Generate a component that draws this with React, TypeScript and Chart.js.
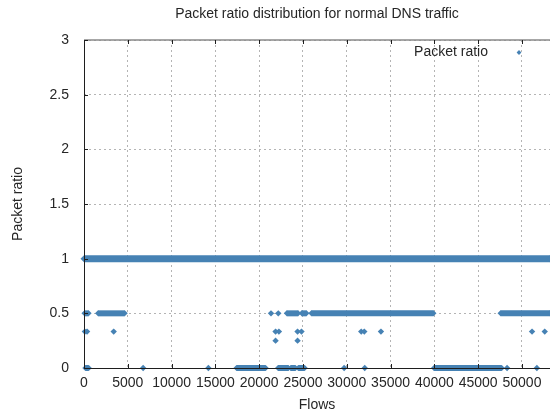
import React, { useEffect, useRef } from "react";
import { Chart, registerables } from "chart.js";

Chart.register(...registerables);

const TITLE = "Packet ratio distribution for normal DNS traffic";
const X_LABEL = "Flows";
const Y_LABEL = "Packet ratio";
const SERIES_NAME = "Packet ratio";

const X_MIN = 0;
const X_MAX = 53200;
const Y_MIN = 0;
const Y_MAX = 3;
const xTickValues = [0, 5000, 10000, 15000, 20000, 25000, 30000, 35000, 40000, 45000, 50000];
const yTickValues = [0, 0.5, 1, 1.5, 2, 2.5, 3];

// Dense runs of consecutive flows sharing the same ratio: [first flow, last flow]
const runsRatio1 = [[0, 53200]];
const runsRatioHalf = [
  [50, 530],
  [1600, 4650],
  [23150, 24450],
  [24850, 25400],
  [25950, 39900],
  [47550, 53200],
];
const runsRatio0 = [
  [150, 550],
  [17400, 20750],
  [22150, 23350],
  [23600, 24150],
  [24450, 25200],
  [39950, 47700],
];

// Isolated flows (flow index) per ratio value
const pointsRatioHalf = [21350, 22180];
const pointsRatioThird = [100, 350, 3390, 21870, 22250, 24380, 24830, 31650, 32000, 33900, 51150, 52600];
const pointsRatioQuarter = [21870, 24380];
const pointsRatio0 = [6750, 14200, 29700, 32050, 48300, 51700];

const RATIO_1 = 1;
const RATIO_HALF = 0.5;
const RATIO_THIRD = 0.333;
const RATIO_QUARTER = 0.25;
const RATIO_0 = 0;

const COLOR = "#4682b4";
const TEXT = "#262626";
const FONT = "'Liberation Sans', Arial, sans-serif";
const FONT_SIZE = 14;

function runDatasets(runs: number[][], ratio: number, width: number) {
  return runs.map(([s, e]) => ({
    type: "scatter" as const,
    showLine: true,
    data: [
      { x: s, y: ratio },
      { x: e, y: ratio },
    ],
    borderColor: COLOR,
    backgroundColor: COLOR,
    borderWidth: width,
    pointStyle: "rectRot" as const,
    pointRadius: width / 2,
    pointBorderWidth: 0,
    clip: false as const,
  }));
}

function pointDataset(xs: number[], ratio: number) {
  return {
    type: "scatter" as const,
    showLine: false,
    data: xs.map((x) => ({ x, y: ratio })),
    borderColor: COLOR,
    backgroundColor: COLOR,
    pointStyle: "rectRot" as const,
    pointRadius: 3.2,
    pointBorderWidth: 0,
    clip: false as const,
  };
}

const framePlugin = {
  id: "frame",
  afterDatasetsDraw(chart: any) {
    const { ctx, chartArea: a, scales } = chart;
    const xs = scales.x;
    const ys = scales.y;
    ctx.save();
    // top border (light)
    ctx.strokeStyle = "#8a8a8a";
    ctx.lineWidth = 1.5;
    ctx.beginPath();
    ctx.moveTo(a.left, a.top);
    ctx.lineTo(a.right, a.top);
    ctx.stroke();
    // left & bottom border
    ctx.strokeStyle = "#1e1e1e";
    ctx.lineWidth = 1;
    ctx.beginPath();
    ctx.moveTo(a.left + 0.5, a.top);
    ctx.lineTo(a.left + 0.5, a.bottom + 0.5);
    ctx.lineTo(a.right, a.bottom + 0.5);
    ctx.stroke();
    // inward tick marks
    ctx.beginPath();
    xs.ticks.forEach((t: any) => {
      const px = Math.round(xs.getPixelForValue(t.value)) + 0.5;
      ctx.moveTo(px, a.bottom);
      ctx.lineTo(px, a.bottom - 4);
      ctx.moveTo(px, a.top);
      ctx.lineTo(px, a.top + 4);
    });
    ys.ticks.forEach((t: any) => {
      const py = Math.round(ys.getPixelForValue(t.value)) + 0.5;
      ctx.moveTo(a.left, py);
      ctx.lineTo(a.left + 4, py);
    });
    ctx.stroke();

    // title
    ctx.fillStyle = TEXT;
    ctx.font = `${FONT_SIZE}px ${FONT}`;
    ctx.textAlign = "center";
    ctx.textBaseline = "middle";
    ctx.fillText(TITLE, (a.left + a.right) / 2, 14);

    // legend inside plot, top right
    ctx.textAlign = "right";
    ctx.fillText(SERIES_NAME, a.right - 62, a.top + 12);
    const mx = a.right - 31;
    const my = a.top + 12.5;
    ctx.fillStyle = COLOR;
    ctx.beginPath();
    ctx.moveTo(mx, my - 2.4);
    ctx.lineTo(mx + 2.4, my);
    ctx.lineTo(mx, my + 2.4);
    ctx.lineTo(mx - 2.4, my);
    ctx.closePath();
    ctx.fill();
    ctx.restore();
  },
};

export default function App() {
  const ref = useRef<HTMLCanvasElement | null>(null);
  useEffect(() => {
    if (!ref.current) return;
    const datasets: any[] = [
      ...runDatasets(runsRatio1, RATIO_1, 7),
      ...runDatasets(runsRatioHalf, RATIO_HALF, 6),
      ...runDatasets(runsRatio0, RATIO_0, 6),
      pointDataset(pointsRatioHalf, RATIO_HALF),
      pointDataset(pointsRatioThird, RATIO_THIRD),
      pointDataset(pointsRatioQuarter, RATIO_QUARTER),
      pointDataset(pointsRatio0, RATIO_0),
    ];
    const chart = new Chart(ref.current, {
      type: "scatter",
      data: { datasets },
      options: {
        animation: false,
        responsive: true,
        maintainAspectRatio: false,
        events: [],
        layout: { autoPadding: false, padding: { top: 40, left: 0, right: 0, bottom: 0 } },
        plugins: {
          legend: { display: false },
          title: { display: false },
          tooltip: { enabled: false },
        },
        scales: {
          x: {
            type: "linear",
            min: X_MIN,
            max: X_MAX,
            afterBuildTicks: (s: any) => {
              s.ticks = xTickValues.map((value) => ({ value }));
            },
            afterFit: (s: any) => {
              s.height = 48;
            },
            ticks: {
              autoSkip: false,
              maxRotation: 0,
              minRotation: 0,
              padding: 7,
              color: TEXT,
              font: { family: FONT, size: FONT_SIZE },
              callback: (v: any) => String(v),
            },
            grid: { color: "#b4b4b4", lineWidth: 1, drawTicks: false },
            border: { display: false, dash: [2, 3] },
            title: {
              display: true,
              text: X_LABEL,
              color: TEXT,
              font: { family: FONT, size: FONT_SIZE },
              padding: { top: 0, bottom: 2 },
            },
          },
          y: {
            type: "linear",
            min: Y_MIN,
            max: Y_MAX,
            afterBuildTicks: (s: any) => {
              s.ticks = yTickValues.map((value) => ({ value }));
            },
            afterFit: (s: any) => {
              s.width = 84;
            },
            ticks: {
              padding: 15,
              color: TEXT,
              font: { family: FONT, size: FONT_SIZE },
              callback: (v: any) => String(v),
            },
            grid: { color: "#b4b4b4", lineWidth: 1, drawTicks: false },
            border: { display: false, dash: [2, 3] },
            title: {
              display: true,
              text: Y_LABEL,
              color: TEXT,
              font: { family: FONT, size: FONT_SIZE },
              padding: { top: 10, bottom: 0 },
            },
          },
        },
      },
      plugins: [framePlugin],
    });
    return () => chart.destroy();
  }, []);
  return (
    <div style={{ position: "absolute", left: 0, top: 0, width: 550, height: 416, background: "#fff" }}>
      <canvas ref={ref} />
    </div>
  );
}
